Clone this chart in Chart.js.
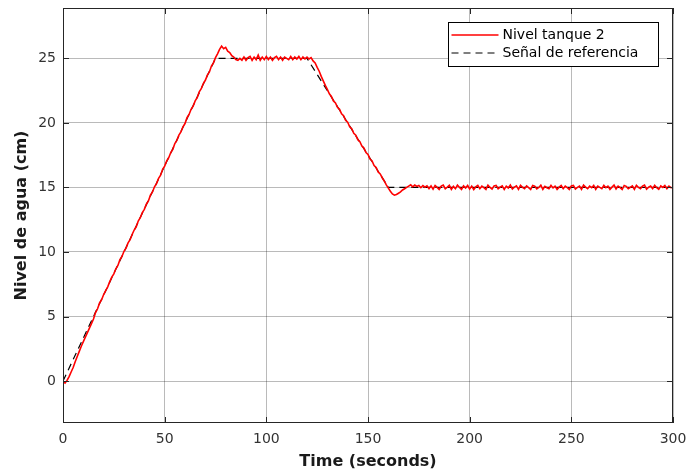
<!DOCTYPE html>
<html>
<head>
<meta charset="utf-8">
<script src="https://cdn.jsdelivr.net/npm/chart.js@4.4.1/dist/chart.umd.min.js"></script>
<style>
  html, body { margin: 0; padding: 0; background: #fff; }
  #wrap { width: 686px; height: 475px; }
</style>
</head>
<body>
<div id="wrap"><canvas id="nivelChart" width="686" height="475"></canvas></div>
<script>
// measured water level (cm), sampled every second from t = 0 to 300 s
const sampleStep = 1;
const nivelTanque = [
  0.00, -0.15, 0.05, 0.35, 0.70, 1.05, 1.50, 1.90, 2.30, 2.70,
  3.05, 3.40, 3.75, 4.10, 4.45, 4.80, 5.30, 5.60, 6.05, 6.30,
  6.70, 7.00, 7.30, 7.70, 8.05, 8.30, 8.70, 8.95, 9.40, 9.65,
  10.05, 10.30, 10.70, 10.95, 11.35, 11.70, 11.95, 12.40, 12.65, 13.05,
  13.30, 13.70, 13.95, 14.40, 14.65, 15.05, 15.30, 15.70, 15.95, 16.40,
  16.65, 17.05, 17.30, 17.70, 17.95, 18.40, 18.65, 19.05, 19.30, 19.70,
  19.95, 20.40, 20.65, 21.05, 21.30, 21.70, 21.95, 22.40, 22.65, 23.05,
  23.30, 23.70, 23.95, 24.40, 24.65, 25.05, 25.35, 25.70, 25.95, 25.75,
  25.85, 25.55, 25.45, 25.20, 25.10, 24.90, 24.85, 25.00, 24.85, 25.10,
  24.85, 25.05, 25.15, 24.85, 25.10, 24.90, 25.25, 24.85, 25.10, 24.90,
  25.15, 24.90, 25.10, 24.85, 25.05, 25.15, 24.90, 25.10, 24.85, 25.10,
  25.00, 24.90, 25.15, 24.90, 25.10, 24.95, 25.15, 24.90, 25.10, 24.95,
  25.10, 24.95, 25.05, 24.80, 24.65, 24.30, 24.00, 23.60, 23.25, 22.90,
  22.60, 22.25, 22.05, 21.70, 21.55, 21.20, 21.05, 20.70, 20.55, 20.20,
  20.05, 19.70, 19.55, 19.20, 19.05, 18.70, 18.55, 18.20, 18.05, 17.70,
  17.55, 17.20, 17.05, 16.70, 16.55, 16.20, 16.05, 15.75, 15.50, 15.20,
  14.95, 14.70, 14.50, 14.40, 14.45, 14.55, 14.65, 14.80, 14.90, 15.00,
  15.10, 15.20, 15.05, 15.18, 15.08, 15.15, 14.98, 15.15, 15.02, 15.12,
  14.90, 15.12, 14.86, 15.15, 15.00, 14.84, 15.10, 15.18, 14.90, 15.02,
  15.16, 14.85, 15.08, 14.90, 15.18, 15.00, 14.84, 15.12, 14.96, 15.15,
  14.88, 15.10, 14.84, 15.04, 15.16, 14.90, 15.10, 14.98, 14.85, 15.18,
  15.00, 14.88, 15.12, 15.16, 14.90, 15.02, 15.12, 14.84, 15.10, 14.96,
  15.18, 14.88, 15.02, 15.12, 14.85, 15.16, 15.00, 14.90, 15.12, 14.98,
  14.84, 15.15, 15.10, 14.88, 15.00, 15.18, 14.85, 15.08, 14.98, 14.90,
  15.16, 14.96, 15.10, 14.85, 15.02, 15.15, 14.90, 15.10, 14.98, 14.84,
  15.12, 15.16, 14.88, 15.00, 15.10, 14.85, 15.18, 15.02, 14.90, 15.10,
  14.98, 15.15, 14.85, 15.10, 15.00, 14.90, 15.16, 14.98, 15.10, 14.85,
  15.02, 15.18, 14.88, 15.10, 14.98, 14.84, 15.15, 15.08, 14.90, 15.00,
  15.12, 14.85, 15.16, 15.00, 14.90, 15.10, 15.18, 14.86, 15.02, 15.10,
  14.90, 15.16, 14.98, 14.85, 15.12, 15.00, 15.15, 14.90, 15.10, 14.98,
  15.00
];

// reference setpoint (corners of the profile)
const refTime = [0, 75, 120, 160, 300];
const refNivel = [0, 25, 25, 15, 15];

const xTicks = [0, 50, 100, 150, 200, 250, 300];
const yTicks = [0, 5, 10, 15, 20, 25];
const seriesLabels = ['Nivel tanque 2', 'Señal de referencia'];

const FONT = "'DejaVu Sans', sans-serif";

const boxAndLegend = {
  id: 'boxAndLegend',
  afterDraw(chart) {
    const { ctx, chartArea: a, scales } = chart;
    ctx.save();
    // axes box
    ctx.strokeStyle = '#262626';
    ctx.lineWidth = 1;
    ctx.strokeRect(a.left + 0.5, a.top + 0.5, a.right - a.left - 1, a.bottom - a.top - 1);
    // inward tick marks
    const tl = 6;
    ctx.beginPath();
    xTicks.forEach(v => {
      const x = Math.round(scales.x.getPixelForValue(v)) + 0.5;
      ctx.moveTo(x, a.bottom); ctx.lineTo(x, a.bottom - tl);
      ctx.moveTo(x, a.top); ctx.lineTo(x, a.top + tl);
    });
    yTicks.forEach(v => {
      const y = Math.round(scales.y.getPixelForValue(v)) + 0.5;
      ctx.moveTo(a.left, y); ctx.lineTo(a.left + tl, y);
      ctx.moveTo(a.right, y); ctx.lineTo(a.right - tl, y);
    });
    ctx.stroke();

    // legend inside the plot, top right
    const bx = 448.5, by = 22.5, bw = 210, bh = 44;
    ctx.fillStyle = '#fff';
    ctx.fillRect(bx, by, bw, bh);
    ctx.strokeStyle = '#000';
    ctx.strokeRect(bx, by, bw, bh);
    const ds = chart.data.datasets;
    ctx.font = '14px ' + FONT;
    ctx.textBaseline = 'middle';
    ctx.textAlign = 'left';
    ds.forEach((d, i) => {
      const yy = by + 12.5 + i * 18;
      ctx.strokeStyle = d.borderColor;
      ctx.lineWidth = d.borderWidth;
      ctx.setLineDash(d.borderDash || []);
      ctx.beginPath();
      ctx.moveTo(bx + 3, yy);
      ctx.lineTo(bx + 50, yy);
      ctx.stroke();
      ctx.setLineDash([]);
      ctx.fillStyle = '#000';
      ctx.fillText(d.label, bx + 54, yy);
    });
    ctx.restore();
  }
};

const ctx = document.getElementById('nivelChart').getContext('2d');
const nivelChart = new Chart(ctx, {
  type: 'line',
  data: {
    datasets: [
      {
        label: seriesLabels[0],
        data: nivelTanque.map((v, i) => ({ x: i * sampleStep, y: v })),
        borderColor: '#ff0000',
        borderWidth: 1.6,
        pointRadius: 0,
        tension: 0,
      },
      {
        label: seriesLabels[1],
        data: refTime.map((t, i) => ({ x: t, y: refNivel[i] })),
        borderColor: '#000000',
        borderWidth: 1.2,
        borderDash: [7, 5],
        pointRadius: 0,
        tension: 0,
      },
    ],
  },
  options: {
    responsive: false,
    animation: false,
    layout: { padding: { top: 8, right: 13, bottom: 0, left: 0 } },
    scales: {
      x: {
        type: 'linear',
        min: 0,
        max: 300,
        afterBuildTicks: s => { s.ticks = xTicks.map(v => ({ value: v })); },
        afterFit: s => { s.height = 52; s.paddingLeft = 0; s.paddingRight = 0; },
        grid: { color: 'rgba(0,0,0,0.27)', drawTicks: false },
        border: { display: false },
        ticks: {
          padding: 8,
          maxRotation: 0,
          color: '#333',
          font: { family: FONT, size: 14 },
        },
        title: {
          display: true,
          text: 'Time (seconds)',
          color: '#1a1a1a',
          padding: { top: 0, bottom: 4 },
          font: { family: FONT, size: 16, weight: 'bold' },
        },
      },
      y: {
        min: -3.25,
        max: 28.9,
        afterBuildTicks: s => { s.ticks = yTicks.map(v => ({ value: v })); },
        afterFit: s => { s.width = 63; s.paddingTop = 0; s.paddingBottom = 0; },
        grid: { color: 'rgba(0,0,0,0.27)', drawTicks: false },
        border: { display: false },
        ticks: {
          padding: 7,
          color: '#333',
          font: { family: FONT, size: 14 },
        },
        title: {
          display: true,
          text: 'Nivel de agua (cm)',
          color: '#1a1a1a',
          padding: { top: 12, bottom: 0 },
          font: { family: FONT, size: 16, weight: 'bold' },
        },
      },
    },
    plugins: {
      legend: { display: false },
      tooltip: { enabled: false },
    },
  },
  plugins: [boxAndLegend],
});
</script>
</body>
</html>
